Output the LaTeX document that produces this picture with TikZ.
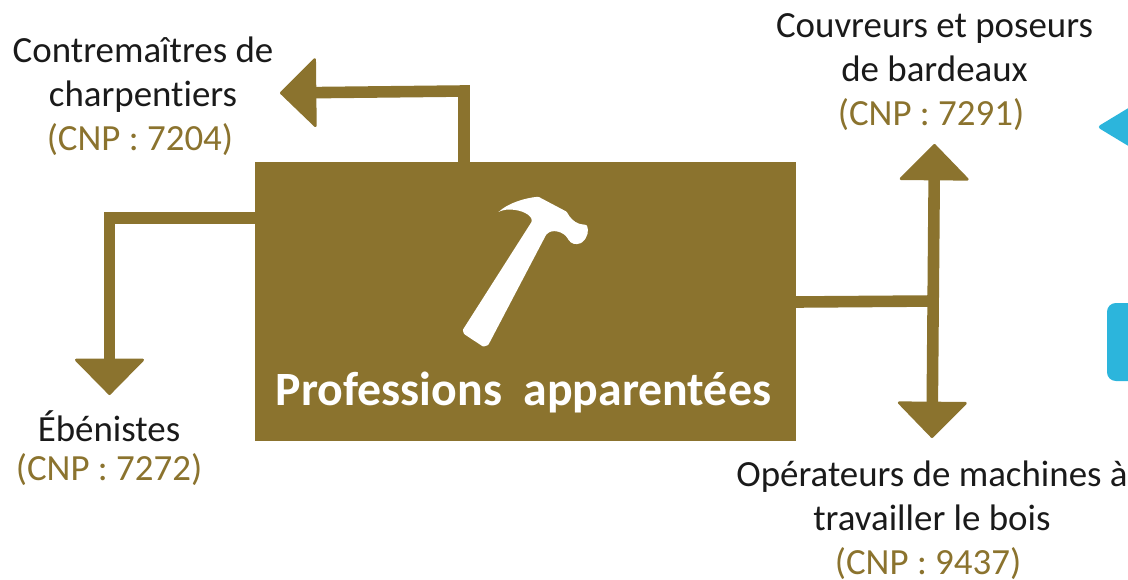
\documentclass[tikz,border=0pt]{standalone}
\usepackage{fontspec}
\usepackage{color}
\setmainfont[Ligatures=NoCommon]{Carlito}
\usetikzlibrary{arrows.meta}
\definecolor{bronze}{HTML}{8B732E}
\definecolor{skyblue}{HTML}{2CB5DC}
\definecolor{encre}{HTML}{1A1A1A}
\tikzset{
  metier/.style={align=center,text=encre,font=\fontsize{21}{25}\selectfont},
  link/.style={draw=bronze,line width=6.6pt,line join=miter},
  tip/.style={-{Triangle[width=41pt,length=21pt,line width=1.5pt,round]}},
  twotips/.style={{Triangle[width=41pt,length=21pt,line width=1.5pt,round]}-{Triangle[width=41pt,length=21pt,line width=1.5pt,round]}}
}
\newcommand{\cnp}[1]{\textcolor{bronze}{(CNP : #1)}}
\begin{document}
\begin{tikzpicture}[x=0.2mm,y=0.2mm]
  \tikzstyle{every node}+=[inner sep=0pt]
  \useasboundingbox (0,0) rectangle (1128,-579);
  \clip (0,0) rectangle (1128,-579);
  % main box
  \node (box) at (525.5,-301.5) [fill=bronze,minimum width=10.82cm,minimum height=5.58cm] {};
  \node (title) at (523.5,-392) [text=white,font=\fontsize{27.2}{30}\selectfont\bfseries] {Professions\ \ apparentées};
  % hammer
  \fill [white,rounded corners=0.5pt] (498.3,-212.3) .. controls (508,-203) and (525,-198) .. (538.3,-196.7)
    -- (566.7,-211.7) .. controls (570,-218) and (574,-222) .. (580,-224) -- (586.7,-225)
    .. controls (589,-230) and (588,-238) .. (581,-243) .. controls (576,-245) and (571,-244) .. (568,-239)
    .. controls (564,-232) and (552,-228) .. (546,-235)
    -- (488.3,-345) -- (483.3,-346.7) -- (464,-334) -- (462.7,-330) -- (531.7,-221.7)
    .. controls (532,-215) and (522,-210) .. (510,-209.5) .. controls (505,-209.5) and (500,-211) .. (498.3,-212.3) -- cycle;
  % labels
  \node (contre) at (143,-96) [metier] {Contremaîtres de\\charpentiers\\\cnp{7204}\hspace*{3.5pt}};
  \node (couvreurs) at (934.5,-72) [metier] {Couvreurs et poseurs\\de bardeaux\\\cnp{7291}\hspace*{4pt}};
  \node (ebenistes) at (109,-448) [metier] {Ébénistes\\[-2.5pt]\cnp{7272}};
  \node (operateurs) at (932,-520) [metier] {Opérateurs de machines à\\travailler le bois\\\cnp{9437}\hspace*{4.5pt}};
  % connectors
  \coordinate (contreTip) at (280,-93);
  \coordinate (ebenTip) at (109.5,-395);
  \coordinate (couvTip) at (934.5,-144);
  \coordinate (opTip) at (932,-438);
  \coordinate (jonction) at (933,-301);
  \draw [link,tip] (464,-162) -- (464,-91) -- (contreTip);
  \draw [link,tip] (255,-218) -- (109.5,-218) -- (ebenTip);
  \draw [link,twotips] (couvTip) -- (opTip);
  \draw [link] (796,-302) -- (jonction);
  % blue shapes cut off at the edge
  \fill [skyblue,rounded corners=2pt] (1097,-127) -- (1140,-101) -- (1140,-153) -- cycle;
  \fill [skyblue,rounded corners=5pt] (1107,-303) rectangle (1150,-381);
\end{tikzpicture}
\end{document}
